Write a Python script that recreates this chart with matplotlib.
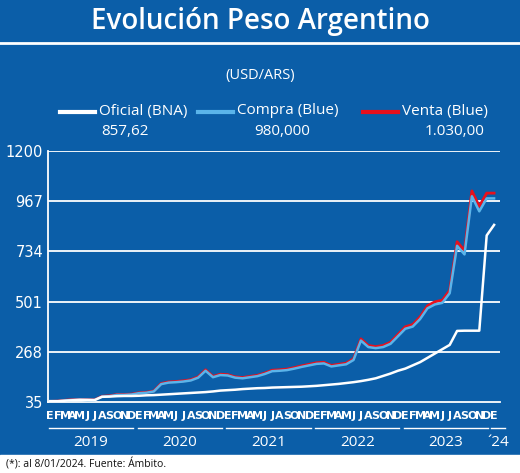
import matplotlib.pyplot as plt
import numpy as np

# ---------------- data (monthly, Jan 2019 .. Jan 2024) ---------------- #
oficial = [39, 39, 41, 43, 45, 45, 44, 59, 60, 62, 63, 63,
           64, 66, 67, 69, 71, 73, 75, 77, 79, 81, 84, 88,
           90, 92, 95, 97, 99, 100, 102, 103, 104, 105, 106, 108,
           110, 113, 116, 119, 123, 127, 132, 138, 145, 156, 167, 180,
           190, 205, 220, 240, 260, 280, 300, 365, 366, 366, 366, 808,
           857]
compra = [37, 38, 42, 45, 46, 44, 44, 60, 62, 68, 68, 70,
          76, 78, 84, 118, 125, 127, 130, 135, 148, 180, 150, 160,
          158, 148, 145, 150, 155, 165, 178, 180, 183, 190, 198, 205,
          212, 214, 200, 205, 210, 230, 320, 290, 285, 290, 305, 340,
          375, 385, 420, 470, 488, 495, 540, 760, 720, 990, 920, 980,
          980]
venta = [c * 1.025 for c in compra]
months = ['E', 'F', 'M', 'A', 'M', 'J', 'J', 'A', 'S', 'O', 'N', 'D']
years = ['2019', '2020', '2021', '2022', '2023']
yticks = [35, 268, 501, 734, 967, 1200]

blue = '#0b5ea8'
fig = plt.figure(figsize=(5.2, 4.73), dpi=100)
fig.patch.set_facecolor(blue)

# footnote white band
fig.add_artist(plt.Rectangle((0, 0), 1, 18/473, transform=fig.transFigure,
                             color='white', zorder=0))
fig.text(0.012, 9/473, '(*): al 8/01/2024. Fuente: Ámbito.', fontsize=7.5,
         va='center', color='#111111', family='Open Sans')

# title
fig.text(0.5, 1 - 22/473, 'Evolución Peso Argentino', ha='center', va='center',
         color='white', fontsize=20, family='Open Sans', fontweight='semibold')
fig.add_artist(plt.Line2D([0.0, 1.0], [1 - 43/473] * 2, color='white', lw=2,
                          transform=fig.transFigure))
fig.text(0.5, 1 - 75/473, '(USD/ARS)', ha='center', va='center', color='white',
         fontsize=10.5, family='Open Sans')

# legend: (line start px, colour, label, value, value centre px)
leg = [(60, 'white', 'Oficial (BNA)', '857,62', 125),
       (198, '#5ab4ea', 'Compra (Blue)', '980,000', 282),
       (363, '#e8101c', 'Venta (Blue)', '1.030,00', 455)]
for x0, col, name, val, xv in leg:
    fig.add_artist(plt.Line2D([x0/520, (x0 + 35)/520], [1 - 112/473] * 2,
                              color=col, lw=3, transform=fig.transFigure))
    fig.text((x0 + 39)/520, 1 - 111/473, name, color='white', fontsize=11,
             va='center', family='Open Sans')
    fig.text(xv/520, 1 - 131/473, val, color='white', fontsize=11,
             va='center', ha='center', family='Open Sans')

ax = fig.add_axes([48/520, 71/473, 452/520, 251/473])
ax.set_facecolor(blue)
x = np.arange(len(oficial))
for yv in yticks[1:]:
    ax.axhline(yv, color='white', lw=1.3, zorder=1)
ax.plot(x, venta, color='#e8101c', lw=2, zorder=2)
ax.plot(x, compra, color='#5ab4ea', lw=1.8, zorder=3)
ax.plot(x, oficial, color='white', lw=1.8, zorder=4)
ax.set_xlim(-0.3, 60.8)
ax.set_ylim(35, 1200)
ax.set_yticks(yticks)
ax.tick_params(axis='y', colors='white', labelsize=10.5, length=0)
ax.set_xticks([])
for s in ['top', 'right']:
    ax.spines[s].set_visible(False)
ax.spines['left'].set_color('white')
ax.spines['bottom'].set_color('white')
ax.spines['left'].set_linewidth(1.3)
ax.spines['bottom'].set_linewidth(1.3)

# month and year labels
tr = ax.get_xaxis_transform()
for i in range(61):
    ax.text(i, -0.055, months[i % 12], transform=tr, ha='center', va='center',
            color='white', fontsize=8, family='Liberation Sans Narrow',
            fontweight='bold', clip_on=False)
for k, yr in enumerate(years):
    ax.plot([12*k - 0.2, 12*k + 11.2], [-0.105, -0.105], transform=tr,
            color='white', lw=1, clip_on=False)
    ax.text(12*k + 5.5, -0.16, yr, transform=tr, ha='center', va='center',
            color='white', fontsize=11, family='Open Sans', clip_on=False)
ax.plot([59.6, 61.5], [-0.105, -0.105], transform=tr, color='white', lw=1,
        clip_on=False)
ax.text(60.6, -0.16, '´24', transform=tr, ha='center', va='center',
        color='white', fontsize=11, family='Open Sans', clip_on=False)

fig.savefig('out.png', dpi=100, facecolor=fig.get_facecolor())
